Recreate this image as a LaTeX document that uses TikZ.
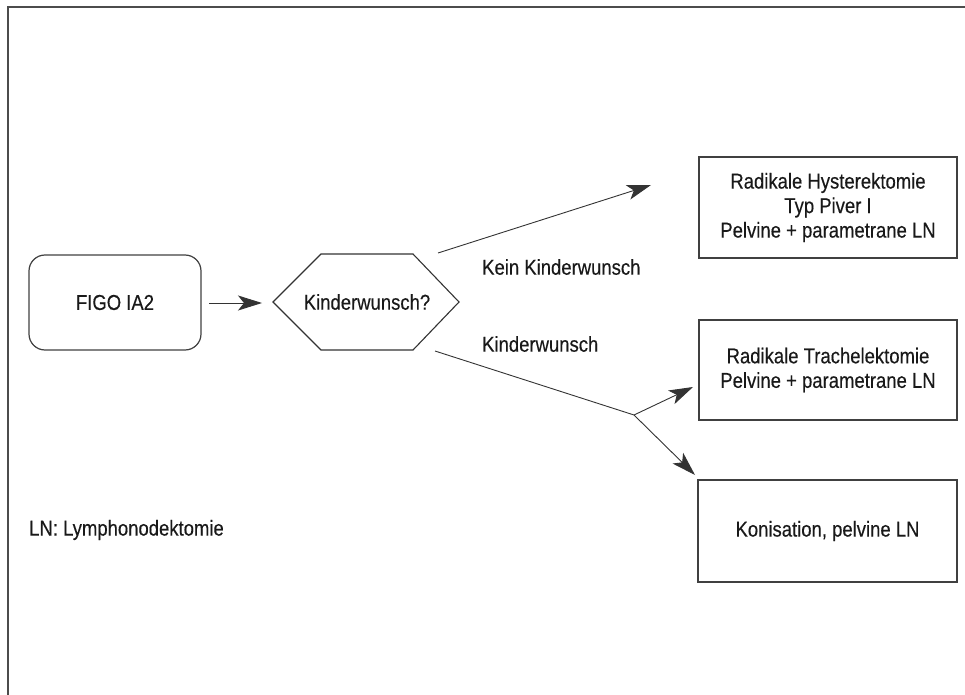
\documentclass[tikz,border=0pt]{standalone}
\usepackage{fontspec}
\setmainfont{Liberation Sans}[FakeStretch=0.86,FakeBold=0.3]
\usetikzlibrary{arrows.meta}
\begin{document}
\begin{tikzpicture}[x=1pt,y=-1pt,
  txt/.style={text=black!90, font=\fontsize{21.5}{24.5}\selectfont, inner sep=0},
  box/.style={txt, draw=black!75, line width=1.2pt, align=center, anchor=center},
  conn/.style={draw=black!80, line width=0.9pt},
  arr/.style={conn, -{Stealth[length=24pt,width=15pt,inset=6pt]}},
  frame/.style={draw=black!70, line width=2pt}]
\useasboundingbox (0,0) rectangle (965,695);

% outer frame (open to the right and bottom)
\draw[frame] (8,695) -- (8,7) -- (965,7);

% start box
\node[box, rounded corners=16pt, minimum width=172pt, minimum height=95pt] (figo) at (115,302.5) {FIGO IA2};

% decision hexagon
\draw[draw=black!80, line width=1.1pt] (273,302) -- (321,254) -- (413,254) -- (459,302) -- (413,350) -- (321,350) -- cycle;
\node[txt] (q) at (367,302) {Kinderwunsch?};

% result boxes
\node[box, minimum width=258pt, minimum height=101pt] (b1) at (828,207.5)
  {Radikale Hysterektomie\\Typ Piver I\\Pelvine + parametrane LN};
\node[box, minimum width=258pt, minimum height=100pt] (b2) at (828,370)
  {Radikale Trachelektomie\\Pelvine + parametrane LN};
\node[box, minimum width=259pt, minimum height=102pt] (b3) at (827.5,531)
  {Konisation, pelvine LN};

% branch labels and legend
\node[txt, anchor=west] (nokw) at (482,267) {Kein Kinderwunsch};
\node[txt, anchor=west] (kw) at (482,344) {Kinderwunsch};
\node[txt, anchor=west] (legend) at (29,530) {LN: Lymphonodektomie};

% connectors
\coordinate (a0) at (209,303);
\coordinate (a1) at (262,303);
\coordinate (u0) at (438,253);
\coordinate (u1) at (651,185);
\coordinate (l0) at (435,351);
\coordinate (split) at (634,415);
\coordinate (t2) at (693,387);
\coordinate (t3) at (695,475);

\draw[arr] (a0) -- (a1);
\draw[arr] (u0) -- (u1);
\draw[conn] (l0) -- (split);
\draw[arr] (split) -- (t2);
\draw[arr] (split) -- (t3);
\end{tikzpicture}
\end{document}
